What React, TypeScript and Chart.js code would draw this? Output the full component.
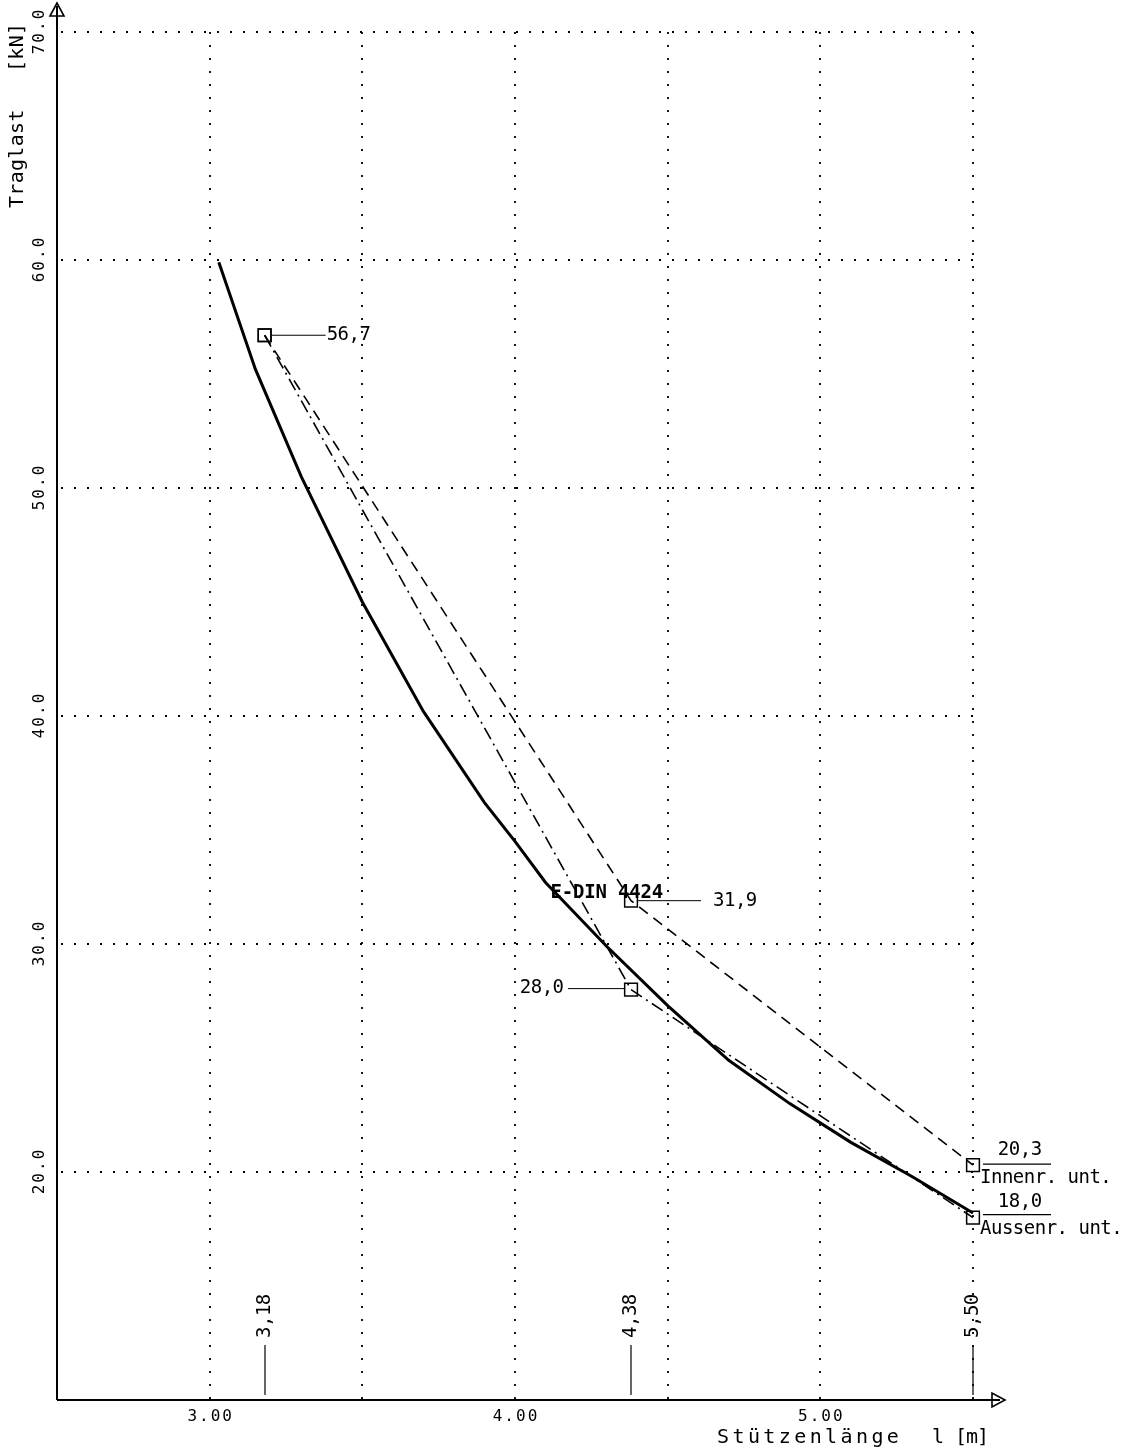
import { useEffect, useRef } from "react";
import { Chart, registerables } from "chart.js";

Chart.register(...registerables);

// Bemessungskurve nach E-DIN 4424 (Stützenlänge [m] / Traglast [kN])
const dinLength = [3.03, 3.15, 3.3, 3.5, 3.7, 3.9, 4.0, 4.1, 4.3, 4.5, 4.7, 4.9, 5.1, 5.3, 5.5];
const dinLoad = [59.9, 55.2, 50.5, 45.0, 40.2, 36.2, 34.5, 32.7, 29.9, 27.3, 24.9, 23.0, 21.3, 19.8, 18.2];
const dinLabelIndex = 7;

// Versuchswerte
const testLength = [3.18, 4.38, 5.5];
const innerLoad = [56.7, 31.9, 20.3];
const outerLoad = [56.7, 28.0, 18.0];

const xTicks = [3, 4, 5];
const yTicks = [20, 30, 40, 50, 60, 70];
const xGrid = [3, 3.5, 4, 4.5, 5, 5.5];
const yGrid = [20, 30, 40, 50, 60, 70];

const dinName = "E-DIN 4424";
const innerName = "Innenr. unt.";
const outerName = "Aussenr. unt.";
const yTitleA = "Traglast";
const yTitleB = "[kN]";
const xTitleA = "Stützenlänge";
const xTitleB = "l";
const xTitleC = "[m]";

const MONO = '"DejaVu Sans Mono", "Liberation Mono", monospace';
const comma = (v: number, d: number) => v.toFixed(d).replace(".", ",");

type TextOpts = {
  size: number;
  bold?: boolean;
  spacing?: number;
  align?: "left" | "center" | "right";
  rotate?: boolean;
};

function text(ctx: CanvasRenderingContext2D, s: string, x: number, y: number, o: TextOpts) {
  ctx.save();
  ctx.font = `${o.bold ? "bold " : ""}${o.size}px ${MONO}`;
  const sp = o.spacing ?? 0;
  (ctx as any).letterSpacing = `${sp}px`;
  ctx.fillStyle = "#000";
  ctx.textBaseline = "middle";
  ctx.textAlign = "left";
  const w = ctx.measureText(s).width - sp;
  let start = 0;
  if (o.align === "center") start = -w / 2;
  else if (o.align === "right") start = -w;
  ctx.translate(x, y);
  if (o.rotate) ctx.rotate(-Math.PI / 2);
  ctx.fillText(s, start, 0);
  ctx.restore();
}

function line(ctx: CanvasRenderingContext2D, x1: number, y1: number, x2: number, y2: number, w = 1) {
  ctx.beginPath();
  ctx.moveTo(x1, y1);
  ctx.lineTo(x2, y2);
  ctx.lineWidth = w;
  ctx.stroke();
}

const gridPlugin = {
  id: "dottedGrid",
  beforeDatasetsDraw(chart: any) {
    const { ctx, scales } = chart;
    const X = (v: number) => scales.x.getPixelForValue(v);
    const Y = (v: number) => scales.y.getPixelForValue(v);
    ctx.save();
    ctx.strokeStyle = "#000";
    ctx.setLineDash([2, 11]);
    for (const g of xGrid) {
      const x = Math.round(X(g));
      line(ctx, x, Y(yGrid[yGrid.length - 1]), x, Y(scales.y.min), 1.8);
    }
    for (const g of yGrid) {
      const y = Math.round(Y(g));
      line(ctx, X(scales.x.min) + 4, y, X(xGrid[xGrid.length - 1]), y, 1.8);
    }
    ctx.restore();
  },
};

const annotationPlugin = {
  id: "plotAnnotations",
  afterDraw(chart: any) {
    const { ctx, scales } = chart;
    const X = (v: number) => scales.x.getPixelForValue(v);
    const Y = (v: number) => scales.y.getPixelForValue(v);
    const x0 = X(scales.x.min);
    const y0 = Y(scales.y.min);
    ctx.save();
    ctx.strokeStyle = "#000";
    ctx.fillStyle = "#000";
    ctx.setLineDash([]);

    // Achsen mit Pfeilspitzen
    line(ctx, x0, y0, x0, 6, 2);
    line(ctx, x0, y0, 1000, y0, 2);
    ctx.lineWidth = 1.6;
    ctx.beginPath();
    ctx.moveTo(x0, 3);
    ctx.lineTo(x0 - 7, 16);
    ctx.lineTo(x0 + 7, 16);
    ctx.closePath();
    ctx.stroke();
    ctx.beginPath();
    ctx.moveTo(1005, y0);
    ctx.lineTo(992, y0 - 7);
    ctx.lineTo(992, y0 + 7);
    ctx.closePath();
    ctx.stroke();

    // Achsbeschriftung
    for (const t of yTicks) {
      text(ctx, t.toFixed(1), 40, Y(t), { size: 16, spacing: 2, align: "center", rotate: true });
    }
    for (const t of xTicks) {
      text(ctx, t.toFixed(2), X(t), y0 + 17, { size: 16, spacing: 2, align: "center" });
    }
    text(ctx, yTitleA, 18, 208, { size: 20, spacing: 0.3, rotate: true });
    text(ctx, yTitleB, 18, 72, { size: 20, spacing: 0.3, rotate: true });
    text(ctx, xTitleA, 717, y0 + 38, { size: 20, spacing: 3.4 });
    text(ctx, xTitleB, 938, y0 + 38, { size: 20, align: "center" });
    text(ctx, xTitleC, 955, y0 + 38, { size: 20, spacing: -1 });

    // Stützenlängen der Versuche
    for (const v of testLength) {
      const x = Math.round(X(v));
      line(ctx, x, y0 - 55, x, y0 - 5, 1.2);
      text(ctx, comma(v, 2), x, y0 - 62, { size: 19, spacing: -0.5, rotate: true });
    }

    // Messwerte
    const lbl = { size: 19, spacing: -0.5 };
    {
      const x = X(testLength[0]);
      const y = Y(innerLoad[0]);
      line(ctx, x + 7, y, x + 61, y, 1);
      text(ctx, comma(innerLoad[0], 1), x + 62, y, lbl);
    }
    {
      const x = X(testLength[1]);
      const y = Y(innerLoad[1]);
      line(ctx, x + 7, y, x + 70, y, 1);
      text(ctx, comma(innerLoad[1], 1), x + 82, y, lbl);
      const y2 = Y(outerLoad[1]);
      line(ctx, x - 63, y2 - 1, x - 6, y2 - 1, 1);
      text(ctx, comma(outerLoad[1], 1), x - 67, y2 - 2, { ...lbl, align: "right" });
    }
    {
      const x = X(testLength[2]);
      const y = Y(innerLoad[2]);
      line(ctx, x + 10, y - 1, x + 78, y - 1, 1.2);
      text(ctx, comma(innerLoad[2], 1), x + 47, y - 15, { ...lbl, align: "center" });
      text(ctx, innerName, x + 7, y + 13, lbl);
      const y2 = Y(outerLoad[2]);
      line(ctx, x + 10, y2 - 3, x + 78, y2 - 3, 1.2);
      text(ctx, comma(outerLoad[2], 1), x + 47, y2 - 16, { ...lbl, align: "center" });
      text(ctx, outerName, x + 7, y2 + 11, lbl);
    }

    // Kurvenbezeichnung
    text(ctx, dinName, X(dinLength[dinLabelIndex]) + 5, Y(dinLoad[dinLabelIndex]) + 11, {
      size: 19,
      bold: true,
      spacing: -0.2,
    });
    ctx.restore();
  },
};

export default function App() {
  const ref = useRef<HTMLCanvasElement | null>(null);

  useEffect(() => {
    if (!ref.current) return;
    const pts = (xs: number[], ys: number[]) => xs.map((x, i) => ({ x, y: ys[i] }));
    const marker = {
      pointStyle: "rect" as const,
      pointRadius: 9,
      pointHoverRadius: 9,
      pointBorderWidth: 1.5,
      pointBorderColor: "#000",
      pointBackgroundColor: "rgba(0,0,0,0)",
    };
    const chart = new Chart(ref.current, {
      type: "line",
      data: {
        datasets: [
          {
            label: dinName,
            data: pts(dinLength, dinLoad),
            borderColor: "#000",
            borderWidth: 3,
            pointRadius: 0,
            tension: 0,
            clip: false as any,
          },
          {
            label: innerName,
            data: pts(testLength, innerLoad),
            borderColor: "#000",
            borderWidth: 1.6,
            borderDash: [11, 7],
            tension: 0,
            clip: false as any,
            ...marker,
          },
          {
            label: outerName,
            data: pts(testLength, outerLoad),
            borderColor: "#000",
            borderWidth: 1.6,
            borderDash: [13, 5, 2, 5],
            tension: 0,
            clip: false as any,
            ...marker,
          },
        ],
      },
      options: {
        responsive: false,
        animation: false,
        events: [],
        layout: { padding: { left: 57, right: 165, top: 32, bottom: 52 } },
        plugins: { legend: { display: false }, tooltip: { enabled: false } },
        scales: {
          x: { type: "linear", min: 2.5, max: 5.5, display: false },
          y: { type: "linear", min: 10, max: 70, display: false },
        },
      },
      plugins: [gridPlugin, annotationPlugin],
    });
    return () => chart.destroy();
  }, []);

  return (
    <div style={{ position: "absolute", left: 0, top: 0, width: 1138, height: 1452, background: "#fff" }}>
      <canvas ref={ref} width={1138} height={1452} style={{ display: "block" }} />
    </div>
  );
}
